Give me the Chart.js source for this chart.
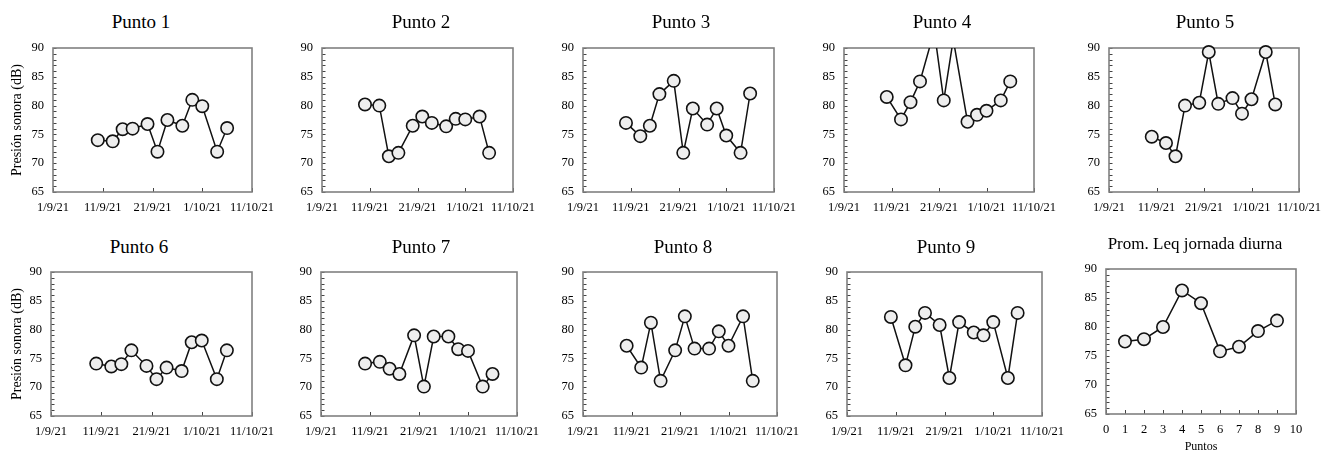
<!DOCTYPE html>
<html lang="es">
<head>
<meta charset="utf-8">
<title>Presión sonora por punto</title>
<script src="https://cdn.jsdelivr.net/npm/chart.js@4.4.1/dist/chart.umd.min.js"></script>
<style>
  html, body { margin: 0; padding: 0; background: #fff; }
  #wrap { position: relative; width: 1333px; height: 453px; overflow: hidden; }
  .panel { position: absolute; }
  .panel canvas { display: block; }
  .ptitle {
    position: absolute; width: 300px; text-align: center;
    font-family: 'Liberation Serif', 'Times New Roman', serif;
    color: #000; line-height: 22px; white-space: nowrap;
  }
</style>
</head>
<body>
<div id="wrap"></div>
<script>
// measurement days (Mon / Wed / Fri)
const startDate = '2021-09-01';
const measureDates = [
  '2021-09-10', '2021-09-13', '2021-09-15', '2021-09-17', '2021-09-20', '2021-09-22',
  '2021-09-24', '2021-09-27', '2021-09-29', '2021-10-01', '2021-10-04', '2021-10-06',
];
const dateTickLabels = ['1/9/21', '11/9/21', '21/9/21', '1/10/21', '11/10/21'];

// Leq per day (dB)
const punto1 = [74.0, 73.8, 75.9, 76.0, 76.8, 72.0, 77.5, 76.5, 81.0, 79.9, 72.0, 76.1];
const punto2 = [80.2, 80.0, 71.2, 71.8, 76.5, 78.1, 77.0, 76.4, 77.7, 77.6, 78.1, 71.8];
const punto3 = [77.0, 74.7, 76.5, 82.0, 84.3, 71.8, 79.5, 76.7, 79.5, 74.8, 71.8, 82.1];
const punto4 = [81.5, 77.6, 80.6, 84.2, 93.0, 80.9, 91.5, 77.2, 78.4, 79.1, 80.9, 84.2];
const punto5 = [74.6, 73.5, 71.2, 80.0, 80.5, 89.3, 80.3, 81.3, 78.6, 81.1, 89.3, 80.2];
const punto6 = [74.1, 73.6, 74.0, 76.4, 73.7, 71.4, 73.4, 72.8, 77.8, 78.1, 71.4, 76.4];
const punto7 = [74.1, 74.4, 73.2, 72.3, 79.0, 70.1, 78.8, 78.8, 76.6, 76.3, 70.1, 72.3];
const punto8 = [77.2, 73.4, 81.2, 71.1, 76.4, 82.3, 76.7, 76.7, 79.7, 77.2, 82.3, 71.1];
const punto9 = [82.2, 73.8, 80.5, 82.9, 80.8, 71.6, 81.3, 79.5, 79.0, 81.3, 71.6, 82.9];

// daytime average per point
const puntos = [1, 2, 3, 4, 5, 6, 7, 8, 9];
const promLeq = [77.5, 77.9, 80.0, 86.3, 84.1, 75.8, 76.6, 79.3, 81.1];

const Y_MIN = 65, Y_MAX = 90;
const FONT = "'Liberation Serif', 'Times New Roman', serif";
const TICK_SIZE = 12.5;
const TOP_PAD = 18;
const RIGHT_PAD = 34;
const AXIS_H = 40;

const dayOf = d => Math.round((new Date(d) - new Date(startDate)) / 86400000);
const measureDays = measureDates.map(dayOf);

// plot boxes [left, top, right, bottom] and title centre
const panels = [
  { title: 'Punto 1', values: punto1, box: [53, 48, 252, 192], tx: 141, ty: 21.5, yTitle: true },
  { title: 'Punto 2', values: punto2, box: [322, 48, 513, 192], tx: 421, ty: 21.5 },
  { title: 'Punto 3', values: punto3, box: [583, 48, 774, 192], tx: 681, ty: 21.5 },
  { title: 'Punto 4', values: punto4, box: [844, 48, 1034, 192], tx: 942, ty: 21.5 },
  { title: 'Punto 5', values: punto5, box: [1109, 48, 1299, 192], tx: 1205, ty: 21.5 },
  { title: 'Punto 6', values: punto6, box: [51, 272, 252, 416], tx: 139, ty: 246.5, yTitle: true },
  { title: 'Punto 7', values: punto7, box: [321, 272, 517, 416], tx: 421, ty: 246.5 },
  { title: 'Punto 8', values: punto8, box: [583, 272, 777, 416], tx: 683, ty: 246.5 },
  { title: 'Punto 9', values: punto9, box: [847, 272, 1042, 416], tx: 946, ty: 246.5 },
  { title: 'Prom. Leq jornada diurna', values: promLeq, xs: puntos, box: [1106, 269, 1296, 414],
    tx: 1195, ty: 244, titleSize: 17, summary: true },
];

// frame + inward tick marks, drawn under the series
const framePlugin = {
  id: 'frame',
  beforeDatasetsDraw(chart) {
    const { ctx, chartArea: a, scales: { x, y } } = chart;
    ctx.save();
    ctx.beginPath();
    ctx.strokeStyle = '#444';
    ctx.lineWidth = 1;
    for (let v = y.min; v <= y.max; v += 1) {
      const py = Math.round(y.getPixelForValue(v)) + 0.5;
      ctx.moveTo(a.left, py);
      ctx.lineTo(a.left + 3.5, py);
    }
    x.ticks.forEach(t => {
      const px = Math.round(x.getPixelForValue(t.value)) + 0.5;
      ctx.moveTo(px, a.bottom);
      ctx.lineTo(px, a.bottom - 4);
    });
    ctx.stroke();
    ctx.strokeStyle = '#808080';
    ctx.lineWidth = 1.6;
    ctx.strokeRect(a.left, a.top, a.width, a.height);
    ctx.restore();
  },
};

const wrap = document.getElementById('wrap');

panels.forEach(p => {
  const [left, top, right, bottom] = p.box;
  const yw = p.yTitle ? left : 40;

  const t = document.createElement('div');
  t.className = 'ptitle';
  t.textContent = p.title;
  t.style.fontSize = (p.titleSize || 19) + 'px';
  t.style.left = (p.tx - 150) + 'px';
  t.style.top = (p.ty - 11) + 'px';
  wrap.appendChild(t);

  const div = document.createElement('div');
  div.className = 'panel';
  div.style.left = (left - yw) + 'px';
  div.style.top = (top - TOP_PAD) + 'px';
  const canvas = document.createElement('canvas');
  canvas.width = yw + (right - left) + RIGHT_PAD;
  canvas.height = TOP_PAD + (bottom - top) + AXIS_H;
  div.appendChild(canvas);
  wrap.appendChild(div);

  const xs = p.xs || measureDays;
  const points = p.values.map((v, i) => ({ x: xs[i], y: v }));
  const overflow = Math.max(...p.values) > Y_MAX;

  const xScale = p.summary
    ? { min: 0, max: 10, ticks: { stepSize: 1 } }
    : { min: 0, max: 40, ticks: { stepSize: 10, callback: v => dateTickLabels[v / 10] } };

  new Chart(canvas, {
    type: 'line',
    data: {
      datasets: [{
        data: points,
        borderColor: '#111',
        borderWidth: 1.5,
        pointRadius: 6.2,
        pointBorderWidth: 1.6,
        pointBackgroundColor: '#eeeeee',
        pointBorderColor: '#111',
        tension: 0,
        clip: overflow ? 0 : false,
      }],
    },
    plugins: [framePlugin],
    options: {
      responsive: false,
      animation: false,
      events: [],
      layout: { padding: { top: TOP_PAD, left: 0, right: RIGHT_PAD, bottom: 0 } },
      plugins: {
        legend: { display: false },
        tooltip: { enabled: false },
      },
      scales: {
        x: {
          type: 'linear',
          min: xScale.min,
          max: xScale.max,
          grid: { display: false, drawTicks: false },
          border: { display: false },
          ticks: {
            ...xScale.ticks,
            color: '#000',
            padding: 8.5,
            autoSkip: false,
            maxRotation: 0,
            font: { family: FONT, size: TICK_SIZE },
          },
          title: {
            display: !!p.summary,
            text: 'Puntos',
            color: '#000',
            padding: { top: 0, bottom: 0 },
            font: { family: FONT, size: 12 },
          },
          afterFit(s) { s.height = AXIS_H; },
        },
        y: {
          min: Y_MIN,
          max: Y_MAX,
          grid: { display: false, drawTicks: false },
          border: { display: false },
          ticks: {
            stepSize: 5,
            color: '#000',
            padding: 9,
            font: { family: FONT, size: TICK_SIZE },
          },
          title: {
            display: !!p.yTitle,
            text: 'Presión sonora (dB)',
            color: '#000',
            padding: { top: 8.6, bottom: 0 },
            font: { family: FONT, size: 14 },
          },
          afterFit(s) { s.width = yw; },
        },
      },
    },
  });
});
</script>
</body>
</html>
